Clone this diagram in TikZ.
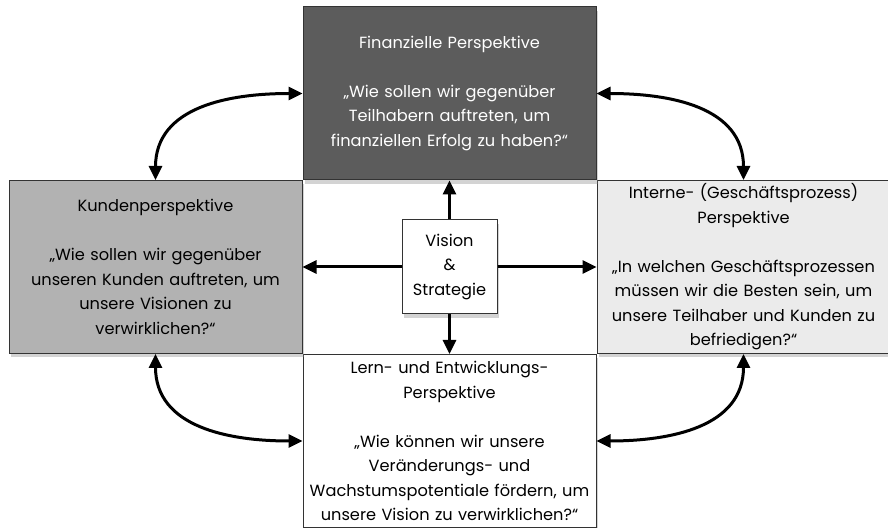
\documentclass[tikz,border=0pt]{standalone}
\usepackage{fontspec}
\setmainfont{Poppins}
\usetikzlibrary{arrows.meta, shadows}

\begin{document}
\begin{tikzpicture}[x=1pt, y=1pt, >={Triangle[length=14pt, width=13pt]},
  font=\fontsize{16.2}{24.5}\selectfont,
  persp/.style={draw=black!80, line width=1pt, minimum width=293pt, minimum height=173pt, text width=287pt, inner sep=0pt, align=center,
    drop shadow={shadow xshift=1.5pt, shadow yshift=-4pt, opacity=.35}},
  pfeil/.style={line width=3pt}]

\useasboundingbox (0,0) rectangle (888,527);
\clip (0,0) rectangle (888,527);

\node[persp, fill=black!8] (intern) at (743.5,260) {Interne- (Geschäftsprozess)\\ Perspektive\\[24.5pt] „In welchen Geschäftsprozessen\\ müssen wir die Besten sein, um\\ unsere Teilhaber und Kunden zu\\ befriedigen?“}; %intern

\node[persp, fill=white] (lern) at (449.5,86) {Lern- und Entwicklungs-\\ Perspektive\\[24.5pt] „Wie können wir unsere\\ Veränderungs- und\\ Wachstumspotentiale fördern, um\\ unsere Vision zu verwirklichen?“}; %lern

\node[persp, fill=black!30] (kunden) at (155.5,260) {Kundenperspektive\\[24.5pt] „Wie sollen wir gegenüber\\ unseren Kunden auftreten, um\\ unsere Visionen zu\\ verwirklichen?“}; %kunden

\node[persp, fill=black!64, text=white] (finanz) at (449.5,433.5) {Finanzielle Perspektive\\[24.5pt] „Wie sollen wir gegenüber\\ Teilhabern auftreten, um\\ finanziellen Erfolg zu haben?“}; %finanz

\node[draw=black!80, line width=1pt, fill=white, minimum width=95pt, minimum height=94pt, inner sep=0pt, align=center,
  drop shadow={shadow xshift=1.5pt, shadow yshift=-4pt, opacity=.35}] (vision) at (449.5,260) {Vision\\ \&\\ Strategie}; %vision

\draw[pfeil, ->] (vision) -- (finanz);
\draw[pfeil, ->] (vision) -- (kunden);
\draw[pfeil, ->] (vision) -- (intern);
\draw[pfeil, ->] (vision) -- (lern);

\draw[pfeil, <->] (kunden.north) to[out=90, in=180, looseness=1.1] (finanz.west);
\draw[pfeil, <->] (finanz.east) to[out=0, in=90, looseness=1.1] (intern.north);
\draw[pfeil, <->] (kunden.south) to[out=-90, in=180, looseness=1.1] (lern.west);
\draw[pfeil, <->] (lern.east) to[out=0, in=-90, looseness=1.1] (intern.south);

\end{tikzpicture}
\end{document}
